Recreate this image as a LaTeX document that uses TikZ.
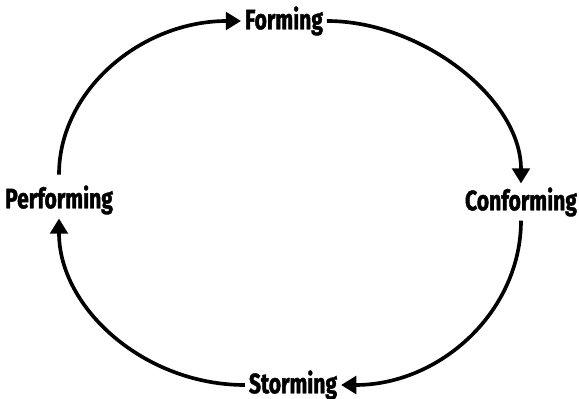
\documentclass[tikz,border=0pt]{standalone}
\usepackage{fontspec}
\setmainfont{Fira Sans}[FakeStretch=0.75, BoldFeatures={FakeBold=1.5}]
\usetikzlibrary{arrows.meta,positioning}
\tikzset{
  phase/.style={font=\bfseries\fontsize{20}{24}\selectfont, inner sep=0pt, outer sep=1mm},
  cyclearrow/.style={-{Triangle[length=3.8mm,width=4.4mm]}, line width=2.6pt}
}
\begin{document}
\begin{tikzpicture}[x=0.025cm, y=-0.025cm]
  \useasboundingbox (0,0) rectangle (579,399);
  % the four phases
  \node[phase] (forming) at (284,21) {Forming};
  \node[phase] (conforming) at (521,202) {Conforming};
  \node[phase] (storming) at (293,385) {Storming};
  \node[phase] (performing) at (59,200) {Performing};
  % the cycle
  \draw[cyclearrow] ([yshift=1.7mm]performing.north) .. controls +(0,-85) and +(-99,0) .. (forming.west);
  \draw[cyclearrow] (forming.east) .. controls +(95,0) and +(0,-85) .. (conforming.north);
  \draw[cyclearrow] (conforming.south) .. controls +(0,91) and +(99,0) .. (storming.east);
  \draw[cyclearrow] (storming.west) .. controls +(-100,0) and +(0,90) .. (performing.south);
\end{tikzpicture}
\end{document}
